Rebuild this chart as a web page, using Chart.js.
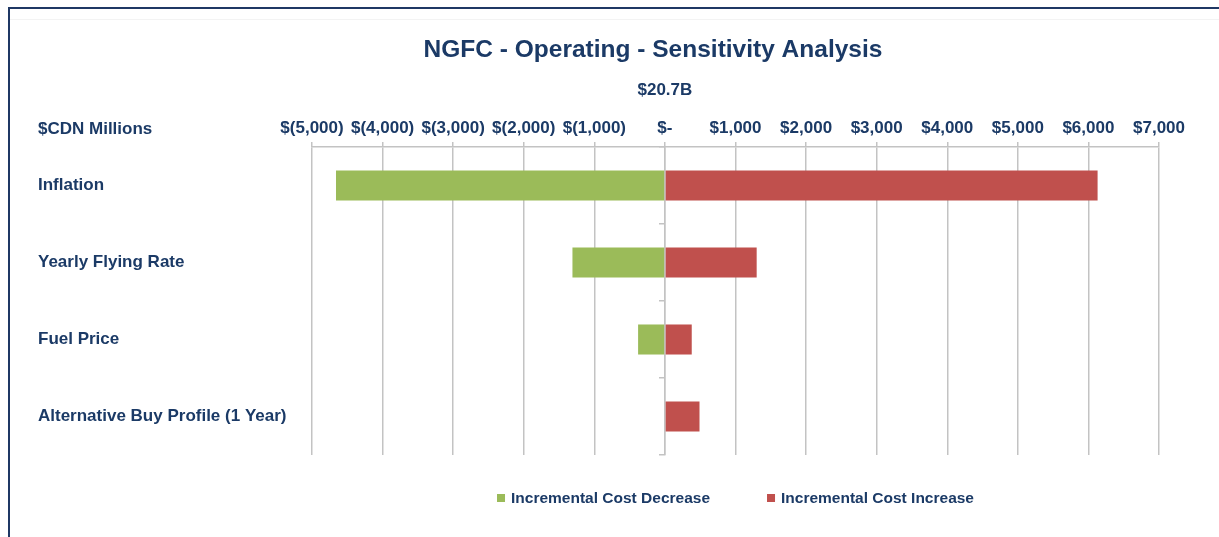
<!DOCTYPE html>
<html><head><meta charset="utf-8">
<script src="https://cdn.jsdelivr.net/npm/chart.js@4/dist/chart.umd.min.js"></script>
<style>
html,body{margin:0;padding:0;background:#fff;}
#wrap{position:relative;width:1219px;height:537px;overflow:hidden;background:#fff;}
#frame{position:absolute;left:8px;top:7px;width:1400px;height:700px;border-left:2px solid #1F3864;border-top:2px solid #1F3864;}
#inner{position:absolute;left:10px;top:19px;width:1400px;height:1px;background:#F3F3F3;}
canvas{position:absolute;left:0;top:0;}
</style></head><body>
<div id="wrap"><div id="frame"></div><div id="inner"></div><canvas id="c" width="1219" height="537"></canvas></div>
<script>
const categories = ['Inflation', 'Yearly Flying Rate', 'Fuel Price', 'Alternative Buy Profile (1 Year)'];
const decreaseValues = [-4660, -1310, -380, 0];
const increaseValues = [6130, 1300, 380, 490];
const seriesNames = ['Incremental Cost Decrease', 'Incremental Cost Increase'];
const seriesColors = ['#9BBB59', '#C0504D'];
const xMin = -5000, xMax = 7000, xStep = 1000;
const chartTitle = 'NGFC - Operating - Sensitivity Analysis';
const subTitle = '$20.7B';
const unitLabel = '$CDN Millions';

const NAVY = '#1B3A66';
const GRID = '#C3C3C3';
const FONT = "'Liberation Sans', Arial, sans-serif";

function fmt(v) {
  if (v === 0) return '$-';
  const s = Math.abs(v).toLocaleString('en-US');
  return v < 0 ? '$(' + s + ')' : '$' + s;
}

const annot = {
  id: 'annot',
  afterDraw(chart) {
    const ctx = chart.ctx;
    const x = chart.scales.x, y = chart.scales.y;
    ctx.save();
    ctx.fillStyle = NAVY;
    ctx.textBaseline = 'middle';
    ctx.textAlign = 'center';
    ctx.font = 'bold 24.5px ' + FONT;
    ctx.fillText(chartTitle, 653, 50);
    ctx.font = 'bold 17px ' + FONT;
    ctx.fillText(subTitle, x.getPixelForValue(0), 90);
    ctx.textAlign = 'left';
    ctx.fillText(unitLabel, y.left, 129);
    // legend
    ctx.font = 'bold 15.5px ' + FONT;
    const box = 8, gap = 6, spacing = 57;
    const widths = seriesNames.map(n => box + gap + ctx.measureText(n).width);
    const total = widths.reduce((a, b) => a + b, 0) + spacing * (widths.length - 1);
    let lx = (x.left + x.right) / 2 - total / 2;
    const ly = 498;
    seriesNames.forEach((n, i) => {
      ctx.fillStyle = seriesColors[i];
      ctx.fillRect(lx, ly - box / 2, box, box);
      ctx.fillStyle = NAVY;
      ctx.fillText(n, lx + box + gap, ly + 1);
      lx += widths[i] + spacing;
    });
    ctx.restore();
  }
};

new Chart(document.getElementById('c'), {
  type: 'bar',
  data: {
    labels: categories,
    datasets: [
      { label: seriesNames[0], data: decreaseValues, backgroundColor: seriesColors[0], xAxisID: 'x', yAxisID: 'y' },
      { label: seriesNames[1], data: increaseValues, backgroundColor: seriesColors[1], xAxisID: 'x', yAxisID: 'y' }
    ]
  },
  options: {
    indexAxis: 'y',
    responsive: false,
    animation: false,
    grouped: false,
    barPercentage: 0.39,
    categoryPercentage: 1,
    layout: { padding: { left: 38, right: 60, top: 117, bottom: 82 } },
    plugins: { legend: { display: false }, title: { display: false }, tooltip: { enabled: false } },
    scales: {
      x: {
        position: 'top',
        min: xMin, max: xMax,
        ticks: { stepSize: xStep, callback: v => fmt(v), color: NAVY, font: { family: FONT, size: 17, weight: 'bold' }, padding: 3, maxRotation: 0, autoSkip: false },
        grid: { color: GRID, lineWidth: 1.5, tickLength: 5 },
        border: { display: true, color: GRID, width: 1.5 },
        afterFit: s => { s.height = 30; }
      },
      y: {
        position: 'left',
        ticks: { crossAlign: 'far', color: NAVY, font: { family: FONT, size: 17, weight: 'bold' }, padding: 0 },
        grid: { display: false },
        border: { display: false },
        afterFit: s => { s.width = 274; }
      },
      y2: {
        type: 'category',
        axis: 'y',
        position: { x: 0 },
        offset: true,
        ticks: { display: false },
        grid: { offset: true, drawOnChartArea: false, tickLength: 5, color: GRID, lineWidth: 1.5 },
        border: { display: true, color: GRID, width: 1.5 }
      }
    }
  },
  plugins: [annot]
});
</script>
</body></html>
